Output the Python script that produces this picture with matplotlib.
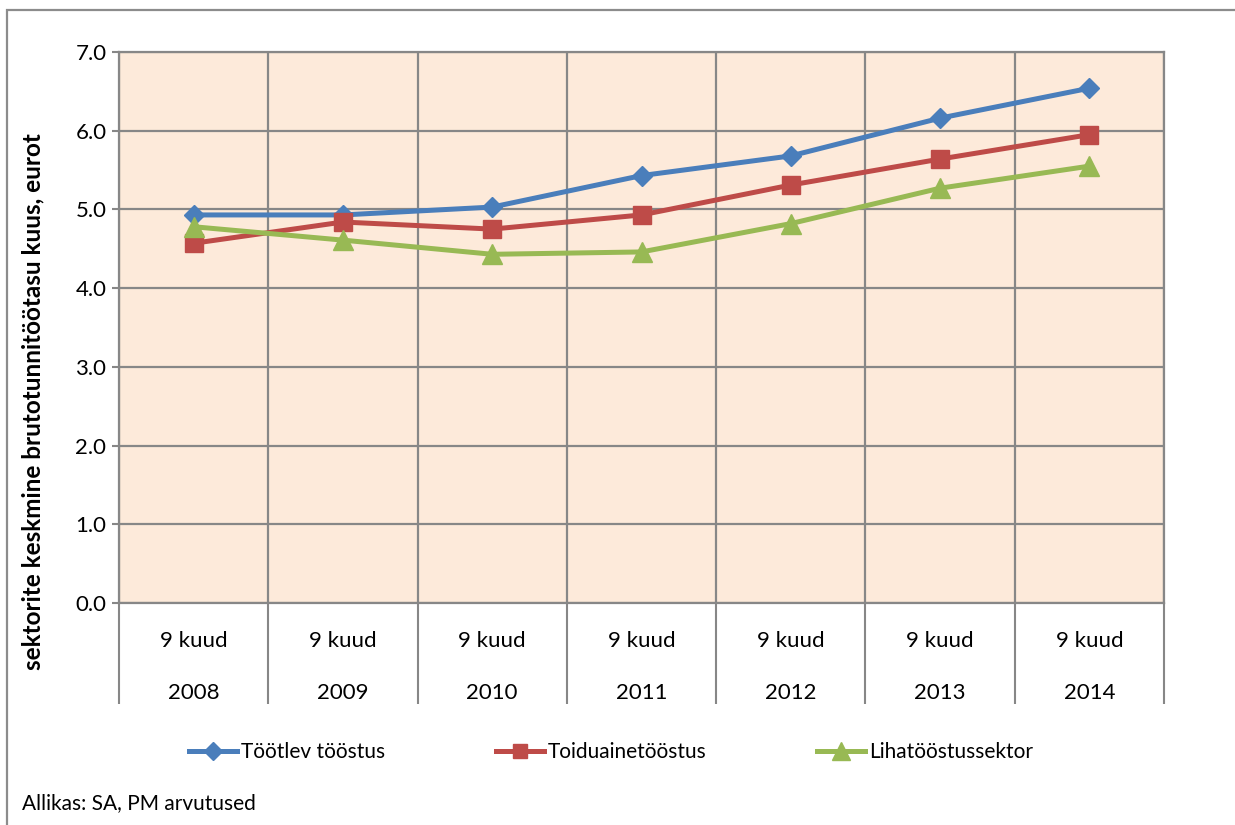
import matplotlib.pyplot as plt
import matplotlib.transforms as mtransforms
from matplotlib.patches import Rectangle
import numpy as np

plt.rcParams["font.family"] = ["Lato", "DejaVu Sans"]

years = ["2008", "2009", "2010", "2011", "2012", "2013", "2014"]
period = "9 kuud"
tootlev = [4.93, 4.93, 5.03, 5.43, 5.68, 6.16, 6.54]
toiduaine = [4.57, 4.84, 4.75, 4.93, 5.31, 5.64, 5.95]
liha = [4.78, 4.61, 4.43, 4.46, 4.82, 5.27, 5.55]

grid_c = "#878787"
fig = plt.figure(figsize=(12.35, 8.25), dpi=100)
ax = fig.add_axes([119 / 1235, 1 - 603 / 825, 1045 / 1235, 551 / 825])
ax.set_facecolor("#fdeada")

x = np.arange(len(years))
ax.plot(x, tootlev, color="#4a7ebb", lw=3.6, marker="D", ms=10.5, label="Töötlev tööstus", zorder=3)
ax.plot(x, toiduaine, color="#be4b48", lw=3.6, marker="s", ms=12.5, label="Toiduainetööstus", zorder=3)
ax.plot(x, liha, color="#98b954", lw=3.6, marker="^", ms=14.5, label="Lihatööstussektor", zorder=3)

ax.set_xlim(-0.5, len(years) - 0.5)
ax.set_ylim(0, 7)
ax.set_yticks(np.arange(0, 8, 1))
ax.set_yticklabels([f"{v:.1f}" for v in np.arange(0, 8, 1)], fontsize=16)
ax.yaxis.grid(True, color=grid_c, lw=1.6)
ax.tick_params(axis="y", length=5, width=1.5, color=grid_c, pad=4)

# category boundaries: gridlines and long ticks under the axis
bounds = np.arange(-0.5, len(years), 1.0)
ax.set_xticks(bounds, minor=True)
ax.set_xticks([])
ax.tick_params(axis="x", which="minor", length=73, width=1.5, color=grid_c, direction="out")
for b in bounds:
    ax.axvline(b, color=grid_c, lw=1.6, zorder=1)
for s in ax.spines.values():
    s.set_color(grid_c)
    s.set_linewidth(1.6)

trans = mtransforms.blended_transform_factory(ax.transData, ax.transAxes)
for i, yr in enumerate(years):
    ax.text(i, -0.069, period, transform=trans, ha="center", va="center", fontsize=16)
    ax.text(i, -0.163, yr, transform=trans, ha="center", va="center", fontsize=16)

fig.text(33 / 1235, 1 - 402 / 825, "sektorite keskmine brutotunnitöötasu kuus, eurot",
         rotation=90, ha="center", va="center", fontsize=17.5, fontweight="bold")

fig.legend(loc="center", bbox_to_anchor=(611 / 1235, 1 - 752 / 825), ncol=3, frameon=False,
           fontsize=15, handlelength=2.3, handletextpad=0.2, columnspacing=5.3, markerscale=0.85)

fig.text(22 / 1235, 1 - 803 / 825, "Allikas: SA, PM arvutused", ha="left", va="center", fontsize=15)

fig.patches.append(Rectangle((7 / 1235, -0.1), 1.2, 1.1 - 10 / 825, transform=fig.transFigure,
                             fill=False, edgecolor="#8c8c8c", lw=1.6))

fig.savefig("out.png", dpi=100)
